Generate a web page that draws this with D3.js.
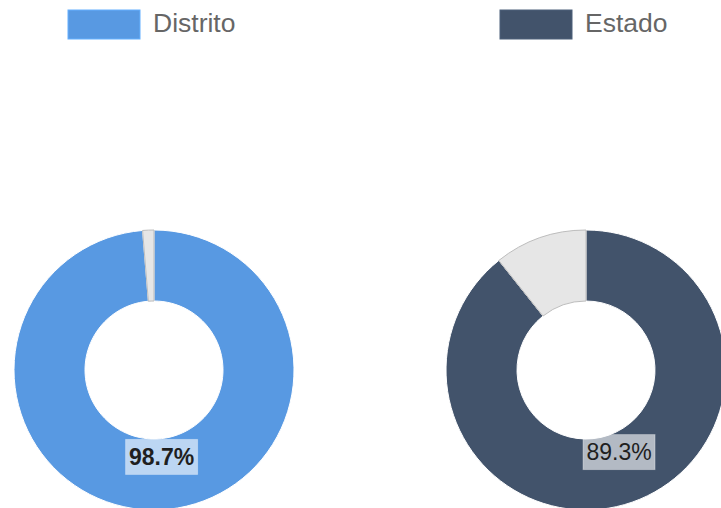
<!DOCTYPE html>
<html>
<head>
<meta charset="utf-8">
<script src="https://cdn.jsdelivr.net/npm/d3@7"></script>
<style>
  html, body { margin: 0; padding: 0; background: #fff; overflow: hidden; }
  svg { display: block; }
</style>
</head>
<body>
<svg id="chart" width="721" height="508"></svg>
<script>
// data
const series = ["Distrito", "Estado"];
const values = [98.7, 89.3];          // percent shown in each donut
const labelWeights = ["bold", "normal"];

const palette = ["#5899E2", "#42536B"];
const restFill = "#E6E6E6";
const restStroke = "#BDBDBD";

const outerR = 140, innerR = 69;

const svg = d3.select("#chart");

// donut centres along x
const x = d3.scalePoint().domain(series).range([154, 586]).padding(0);
const cy = 370;

const pie = d3.pie().sort(null).value(d => d.v).startAngle(0).endAngle(2 * Math.PI);
const arc = d3.arc().innerRadius(innerR).outerRadius(outerR);
const labelArc = d3.arc().innerRadius(88).outerRadius(88);

series.forEach((name, i) => {
  const cx = x(name);
  const parts = [
    { key: "value", v: values[i] },
    { key: "rest", v: 100 - values[i] }
  ];
  const arcs = pie(parts);

  const g = svg.append("g").attr("transform", `translate(${cx},${cy})`);

  g.selectAll("path")
    .data(arcs)
    .enter().append("path")
      .attr("d", arc)
      .attr("fill", d => d.data.key === "value" ? palette[i] : restFill)
      .attr("stroke", d => d.data.key === "value" ? "#fff" : restStroke)
      .attr("stroke-width", 1);

  // percent label on the value slice
  const [lx, ly] = labelArc.centroid(arcs[0]);
  const lab = g.append("g").attr("transform", `translate(${lx + 4},${ly - 1})`);
  lab.append("rect")
    .attr("x", -36).attr("y", -17.5)
    .attr("width", 72).attr("height", 35)
    .attr("fill", "rgba(255,255,255,0.6)")
    .attr("stroke", "rgba(255,255,255,0.35)")
    .attr("stroke-width", 1);
  lab.append("text")
    .attr("text-anchor", "middle")
    .attr("dy", "0.36em")
    .attr("font-family", "'Liberation Sans', Arial, sans-serif")
    .attr("font-size", 23)
    .attr("font-weight", labelWeights[i])
    .attr("fill", "#1f1f1f")
    .text(d3.format(".1f")(values[i]) + "%");

  // legend
  const lg = svg.append("g").attr("transform", `translate(${cx - 86},10)`);
  lg.append("rect")
    .attr("width", 72).attr("height", 29)
    .attr("fill", palette[i])
    .attr("stroke", d3.color(palette[i]).brighter(0.4))
    .attr("stroke-width", 1);
  lg.append("text")
    .attr("x", 85).attr("y", 21.5)
    .attr("font-family", "'Liberation Sans', Arial, sans-serif")
    .attr("font-size", 26.5)
    .attr("fill", "#666")
    .text(name);
});
</script>
</body>
</html>
